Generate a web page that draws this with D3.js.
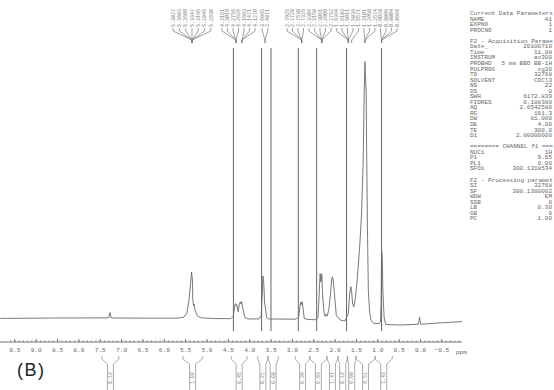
<!DOCTYPE html>
<html>
<head>
<meta charset="utf-8">
<script src="https://cdn.jsdelivr.net/npm/d3@7/dist/d3.min.js"></script>
<style>
  body { margin: 0; background: #fff; }
  svg text { font-family: "Liberation Mono", "DejaVu Sans Mono", monospace; }
</style>
</head>
<body>
<div id="chart"></div>
<script>
// spectrum trace (ppm, intensity in arbitrary units)
const tracePpm = [9.83, 8.55, 7.35, 7.29, 7.26, 7.24, 7.19, 6.32, 5.67, 5.53, 5.46, 5.41, 5.37, 5.35, 5.33, 5.32, 5.30, 5.29, 5.27, 5.22, 5.13,
  4.80, 4.43, 4.37, 4.34, 4.32, 4.30, 4.29, 4.26, 4.23, 4.21, 4.19, 4.18, 4.15, 4.10, 4.03,
  3.77, 3.72, 3.69, 3.68, 3.66, 3.64, 3.59, 3.54,
  2.90, 2.84, 2.81, 2.79, 2.78, 2.76, 2.74, 2.71, 2.62, 2.46, 2.39, 2.37, 2.34, 2.32, 2.30, 2.28, 2.25, 2.22, 2.20, 2.17,
  2.13, 2.09, 2.07, 2.05, 2.03, 2.00, 1.96, 1.87, 1.76,
  1.68, 1.65, 1.62, 1.60, 1.58, 1.55, 1.52, 1.48, 1.45, 1.41, 1.37, 1.33, 1.31, 1.29, 1.26, 1.25, 1.23, 1.21, 1.18, 1.15, 1.09,
  0.96, 0.925, 0.91, 0.90, 0.885, 0.87, 0.84, 0.80, 0.47, 0.04, 0.01, -0.016, -0.47, -0.98];
const traceInt = [0.6, 0.75, 0.8, 0.9, 2.8, 0.9, 0.75, 0.7, 0.7, 1.05, 2.6, 7.5, 14.3, 18.1, 15.1, 7.5, 5.3, 6.0, 3.8, 1.7, 0.8,
  0.55, 0.5, 1.5, 5.3, 6.2, 5.3, 5.8, 3.1, 6.0, 6.8, 6.0, 6.9, 4.5, 0.9, 0.4,
  0.4, 1.5, 11.3, 16.6, 14.3, 6.8, 0.9, 0.4,
  0.3, 1.3, 5.3, 6.8, 5.8, 6.9, 4.5, 0.55, 0.2, 0.1, 0.9, 6.8, 17.5, 14.3, 17.4, 9.1, 3.0, 1.3, 2.2, 1.5,
  4.5, 10.9, 15.1, 16.3, 14.7, 9.1, 1.7, 0, -0.4,
  2.3, 9.4, 12.6, 10.6, 6.4, 4.9, 7.5, 13.6, 19.6, 28.3, 39.6, 60.4, 83, 97.5, 86, 64, 34, 11.3, 3.0, 0, -1.25,
  -1.3, -0.75, 7.5, 26.4, 24.2, 11.3, 0.75, -1.7, -1.9, -1.6, 1.0, -1.6, -1.1, -0.6];

// long marker lines of the off-scale peaks
const markerPpm = [4.37, 3.71, 3.49, 2.85, 2.42, 1.72, 0.90];

// peak picking labels
const peakLabels = ["5.3827", "5.3683", "5.3509", "5.3347", "5.3165", "5.2845", "5.2630",
  "4.3151", "4.3019", "4.2756", "4.2626", "4.1663", "4.1471", "4.1270",
  "3.6665", "3.4871",
  "2.7925", "2.7728", "2.7530", "2.7325",
  "2.3304", "2.3158", "2.3061", "2.2909", "2.2752",
  "1.6364", "1.6183", "1.6011", "1.5836",
  "1.5571",
  "1.3101", "1.2958", "1.2574",
  "0.9028", "0.8896", "0.8804", "0.8664"];
const peakAt = [5.34, 5.34, 5.34, 5.34, 5.34, 5.34, 5.34,
  4.31, 4.31, 4.31, 4.31, 4.17, 4.17, 4.17,
  3.63, 3.63,
  2.77, 2.77, 2.77, 2.77,
  2.30, 2.30, 2.30, 2.30, 2.30,
  1.68, 1.68, 1.68, 1.68,
  1.60,
  1.29, 1.29, 1.29,
  0.90, 0.90, 0.90, 0.90];
const peakRun = [0, 0, 0, 0, 0, 0, 0, 1, 1, 1, 1, 1, 1, 1, 2, 2,
  3, 3, 3, 3, 3, 3, 3, 3, 3, 3, 3, 3, 3, 3, 3, 3, 3, 3, 3, 3, 3];

// integrals
const intFrom = [7.45, 5.55, 4.42, 3.80, 3.56, 2.92, 2.58, 2.18, 1.92, 1.70, 1.50, 1.05];
const intTo   = [7.05, 5.10, 4.05, 3.56, 3.32, 2.58, 2.18, 1.92, 1.70, 1.50, 1.05, 0.65];
const intValues = ["0.12", "1.00", "0.45", "0.21", "0.08", "0.39", "0.93", "1.47", "0.12", "0.98", "6.51", "1.42"];

// axis ticks
const majorTicks = [9.5, 9.0, 8.5, 8.0, 7.5, 7.0, 6.5, 6.0, 5.5, 5.0, 4.5, 4.0, 3.5, 3.0, 2.5, 2.0, 1.5, 1.0, 0.5, 0.0, -0.5];

// acquisition / processing parameters (as far as the printout shows them)
const paramNames = ["Current Data Parameters", "NAME", "EXPNO", "PROCNO", "",
  "F2 - Acquisition Parame", "Date_", "Time", "INSTRUM", "PROBHD", "PULPROG", "TD", "SOLVENT", "NS", "DS",
  "SWH", "FIDRES", "AQ", "RG", "DW", "DE", "TE", "D1", "",
  "======== CHANNEL f1 ===", "NUC1", "P1", "PL1", "SFO1", "",
  "F2 - Processing paramet", "SI", "SF", "WDW", "SSB", "LB", "GB", "PC"];
const paramValues = ["", "A1", "1", "1", "",
  "", "20100710", "11.08", "av300", "5 mm BBO BB-1H", "zg30", "32768", "CDCl3", "22", "0",
  "6172.839", "0.188380", "2.6542580", "161.3", "81.000", "4.00", "300.0", "2.00000000", "",
  "", "1H", "9.65", "0.00", "300.1318534", "",
  "", "32768", "300.1300002", "EM", "0", "0.30", "0", "1.00"];

const width = 554, height = 390;

const svg = d3.select("#chart")
  .append("svg")
  .attr("width", width)
  .attr("height", height)
  .attr("viewBox", `0 0 ${width} ${height}`);

// ppm to x (reversed, as on the printout)
const x = d3.scaleLinear()
  .domain([10, 0])
  .range([-7, 420]);

// intensity to y
const y = d3.scaleLinear()
  .domain([0, 100])
  .range([320, 55]);

// marker lines
svg.append("g")
  .selectAll("line")
  .data(markerPpm)
  .join("line")
    .attr("x1", d => x(d)).attr("x2", d => x(d))
    .attr("y1", 48).attr("y2", 331)
    .attr("stroke", "#555")
    .attr("stroke-width", 0.9);

// spectrum
const trace = tracePpm.map((p, i) => ({ppm: p, v: traceInt[i]}));
svg.append("path")
  .datum(trace)
  .attr("fill", "none")
  .attr("stroke", "#6a6a6a")
  .attr("stroke-width", 0.9)
  .attr("stroke-linejoin", "round")
  .attr("d", d3.line()
    .x(d => x(d.ppm))
    .y(d => y(d.v)));

// x axis, ticks pointing up
const axisY = 342;
svg.append("g")
  .attr("transform", `translate(0,${axisY})`)
  .call(d3.axisBottom(x)
    .tickValues(d3.range(-9, 97).map(d => d / 10))
    .tickSizeInner(-1.5).tickSizeOuter(0)
    .tickFormat(""))
  .call(g => g.select(".domain").remove())
  .call(g => g.selectAll("line").attr("stroke", "#888"));

const xAxis = svg.append("g")
  .attr("transform", `translate(0,${axisY})`)
  .call(d3.axisBottom(x)
    .tickValues(majorTicks)
    .tickSizeInner(-3).tickSizeOuter(0)
    .tickPadding(6)
    .tickFormat(d3.format(".1f")));
xAxis.select(".domain")
  .attr("d", `M${x(9.84)},0H${x(-0.98)}`)
  .attr("stroke", "#777");
xAxis.selectAll("line").attr("stroke", "#777");
xAxis.selectAll("text")
  .attr("font-family", "Liberation Mono")
  .attr("font-size", 6.2)
  .attr("fill", "#666");

svg.append("text")
  .attr("x", x(-0.84))
  .attr("y", axisY + 12)
  .attr("font-size", 6.2)
  .attr("fill", "#666")
  .text("ppm");

// peak labels spread over their runs
const labelX = [];
d3.groups(d3.range(peakLabels.length), i => peakRun[i]).forEach(([r, idx]) => {
  const gap = r === 0 ? 6.3 : 5.5;
  const mid = d3.mean(idx, i => x(peakAt[i]));
  idx.forEach((i, k) => { labelX[i] = mid + (k - (idx.length - 1) / 2) * gap; });
});

const peaks = svg.append("g");
peaks.selectAll("path")
  .data(peakLabels)
  .join("path")
    .attr("fill", "none")
    .attr("stroke", "#777")
    .attr("stroke-width", 0.7)
    .attr("d", (d, i) => `M${labelX[i]},28V31L${x(peakAt[i])},40V43`);
peaks.selectAll("text")
  .data(peakLabels)
  .join("text")
    .attr("transform", (d, i) => `translate(${labelX[i] + 1.7},27) rotate(-90)`)
    .attr("font-size", 5)
    .attr("fill", "#777")
    .text(d => d);

// integral brackets under the axis
const integ = svg.append("g");
intValues.forEach((v, i) => {
  const x0 = x(intFrom[i]), x1 = x(intTo[i]), c = (x0 + x1) / 2;
  integ.append("path")
    .attr("fill", "none")
    .attr("stroke", "#888")
    .attr("stroke-width", 0.7)
    .attr("d", `M${x0},356V359L${c - 3},364V390M${x1},356V359L${c + 3},364V390`);
  integ.append("text")
    .attr("transform", `translate(${c + 1.6},378) rotate(-90)`)
    .attr("text-anchor", "middle")
    .attr("font-size", 4.8)
    .attr("fill", "#777")
    .text(v);
});

// panel letter
svg.append("text")
  .attr("x", 17)
  .attr("y", 376)
  .style("font-family", "'Liberation Sans', Arial, sans-serif")
  .attr("font-size", 18)
  .attr("letter-spacing", 1.5)
  .attr("fill", "#222")
  .text("(B)");

// parameter block
const par = svg.append("g").attr("font-size", 6).attr("fill", "#666");
paramNames.forEach((n, i) => {
  const ty = 15 + i * 5.55;
  if (n) par.append("text").attr("x", 470).attr("y", ty).text(n);
  if (paramValues[i]) par.append("text").attr("x", 552).attr("y", ty)
    .attr("text-anchor", "end").text(paramValues[i]);
});
</script>
</body>
</html>
